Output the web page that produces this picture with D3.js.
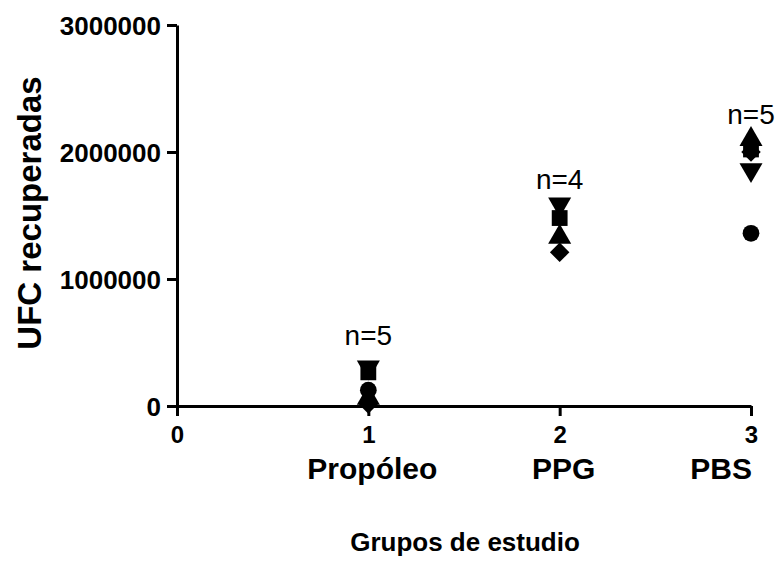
<!DOCTYPE html>
<html>
<meta charset="utf-8">
<head>
  <title>UFC recuperadas por grupo</title>
</head>

<style>
body { margin: 0; background: white; }
text {
  font-family: "Liberation Sans", Arial, sans-serif;
  fill: black;
}
.tick text { font-weight: bold; }
.domain, .tick line { stroke: black; stroke-width: 3; }
</style>

<body>
  <div id="chart"></div>

  <script src="https://d3js.org/d3.v7.min.js"></script>
  <script>

// groups on the x axis
var groupNames = ['Propóleo', 'PPG', 'PBS'];
var groupPos = [1, 2, 3];
var nLabels = ['n=5', 'n=4', 'n=5'];

// one value per group for each symbol (null = no point)
var circleVals   = [125000, null, 1360000];
var squareVals   = [265000, 1480000, 2020000];
var triangleVals = [62000, 1330000, 2100000];
var invTriVals   = [305000, 1590000, 1860000];
var diamondVals  = [15000, 1210000, 2000000];

var xTicks = [0, 1, 2, 3];
var yTicks = [0, 1000000, 2000000, 3000000];

const W = 783, H = 585;

const svg = d3.select('#chart')
  .append('svg')
  .attr('width', W)
  .attr('height', H);

var x = d3.scaleLinear().domain([0, 3]).range([177, 751]);
var y = d3.scaleLinear().domain([0, 3000000]).range([406, 25]);

// y axis
var yAxis = svg.append('g')
  .attr('transform', 'translate(177,0)')
  .call(d3.axisLeft(y).tickValues(yTicks).tickFormat(d3.format('d')).tickSize(10).tickSizeOuter(0));
yAxis.selectAll('.tick text')
  .attr('font-size', 26)
  .attr('x', -16)
  .attr('dy', '0.36em');

// x axis
var xAxis = svg.append('g')
  .attr('transform', 'translate(0,406)')
  .call(d3.axisBottom(x).tickValues(xTicks).tickFormat(d3.format('d')).tickSize(10).tickSizeOuter(0));
xAxis.selectAll('.tick text')
  .attr('font-size', 24)
  .attr('y', 20)
  .attr('dy', '0.71em');

// group names under the ticks (last one pulled in so it fits)
svg.selectAll('.group-label')
  .data(groupNames)
  .enter()
  .append('text')
  .attr('class', 'group-label')
  .attr('x', function(d, i) { return i === 2 ? x(groupPos[i]) + 1 : x(groupPos[i]) + 4; })
  .attr('y', 479)
  .attr('text-anchor', function(d, i) { return i === 2 ? 'end' : 'middle'; })
  .attr('font-size', 30)
  .attr('font-weight', 'bold')
  .text(function(d) { return d; });

// n labels above each cluster
var nY = [d3.max([squareVals[0], invTriVals[0]]), invTriVals[1], triangleVals[2]];
var nGap = [22, 15, 15];
svg.selectAll('.n-label')
  .data(nLabels)
  .enter()
  .append('text')
  .attr('class', 'n-label')
  .attr('x', function(d, i) { return x(groupPos[i]); })
  .attr('y', function(d, i) { return y(nY[i]) - nGap[i]; })
  .attr('text-anchor', 'middle')
  .attr('font-size', 28)
  .text(function(d) { return d; });

// points
var series = [
  {vals: circleVals,   sym: d3.symbolCircle,   size: 220},
  {vals: squareVals,   sym: d3.symbolSquare,   size: 250},
  {vals: triangleVals, sym: d3.symbolTriangle, size: 230, rot: 0},
  {vals: invTriVals,   sym: d3.symbolTriangle, size: 230, rot: 180},
  {vals: diamondVals,  sym: d3.symbolSquare,   size: 190, rot: 45}
];

series.forEach(function(s) {
  var pts = s.vals.map(function(v, i) { return {x: groupPos[i], v: v}; })
    .filter(function(p) { return p.v !== null; });
  svg.append('g')
    .selectAll('path')
    .data(pts)
    .enter()
    .append('path')
    .attr('d', d3.symbol().type(s.sym).size(s.size))
    .attr('transform', function(p) {
      return 'translate(' + x(p.x) + ',' + y(p.v) + ') rotate(' + (s.rot || 0) + ')';
    })
    .attr('fill', 'black');
});

// axis titles
svg.append('text')
  .attr('x', 465)
  .attr('y', 551)
  .attr('text-anchor', 'middle')
  .attr('font-size', 26)
  .attr('font-weight', 'bold')
  .text('Grupos de estudio');

svg.append('text')
  .attr('transform', 'translate(41,213) rotate(-90)')
  .attr('text-anchor', 'middle')
  .attr('font-size', 33)
  .attr('font-weight', 'bold')
  .text('UFC recuperadas');

  </script>
</body>
</html>
